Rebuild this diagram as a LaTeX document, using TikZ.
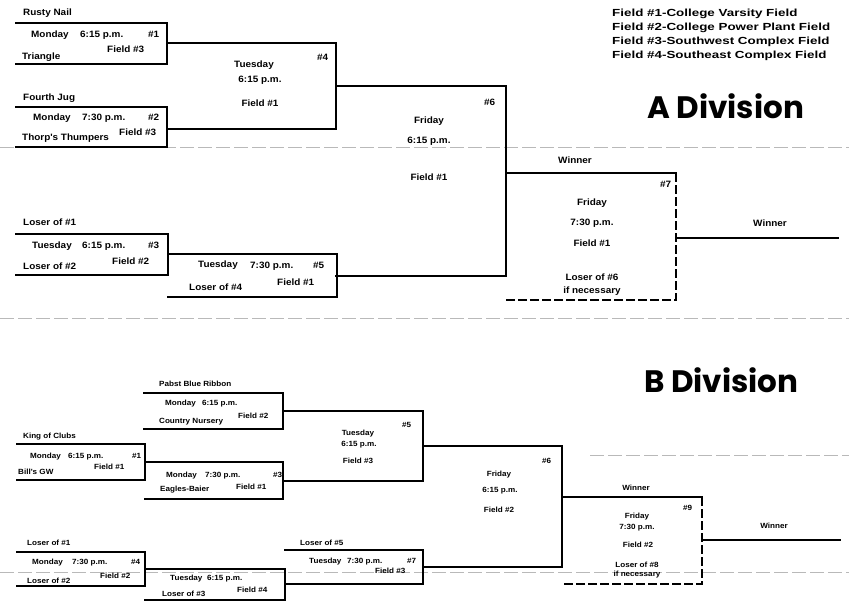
\documentclass[tikz,border=0pt]{standalone}
\usepackage{fontspec}
\newfontfamily\tf{Liberation Sans}[FakeStretch=1.08]
\newfontfamily\lf{Liberation Sans}[FakeStretch=1.3]
\newfontfamily\df{Poppins}
\newcommand\brk[6][]{%
  \node[brframe, minimum width={(#4-#2)*1pt}, minimum height={(#6-#3)*1pt}] (#5) at (#2,#3) {};
  \draw[br,#1] (#5.north west) -- (#5.north east) -- (#5.south east) -- (#5.south west);}
\newcommand\dbrk[6][]{%
  \node[brframe, minimum width={(#4-#2)*1pt}, minimum height={(#6-#3)*1pt}] (#5) at (#2,#3) {};
  \draw[br,#1] (#5.north west) -- (#5.north east);
  \draw[dsh,#1] (#5.north east) -- (#5.south east) -- (#5.south west);}
\begin{document}
\begin{tikzpicture}[x=1pt,y=-1pt,
  br/.style={line width=2.4pt, line join=miter, line cap=rect},
  dsh/.style={line width=2.4pt, dash pattern=on 9pt off 3pt},
  thinb/.style={line width=2pt},
  brframe/.style={inner sep=0pt, outer sep=0pt, draw=none, anchor=north west},
  ta/.style={inner sep=0pt, anchor=base west, font=\tf\bfseries\fontsize{9.2}{10}\selectfont},
  tac/.style={ta, anchor=base},
  tb/.style={inner sep=0pt, anchor=base west, font=\tf\bfseries\fontsize{7.5}{9}\selectfont},
  tbc/.style={tb, anchor=base},
  leg/.style={inner sep=0pt, anchor=base west, font=\lf\bfseries\fontsize{10.3}{12}\selectfont},
  divt/.style={inner sep=0pt, anchor=base west, font=\df\bfseries\fontsize{31}{35}\selectfont},
  scan/.style={gray!55, line width=0.6pt, dash pattern=on 14pt off 4pt}]
\useasboundingbox (0,0) rectangle (849,611);

% faint scan lines
\coordinate (s1a) at (0,147); \coordinate (s1b) at (849,147);
\coordinate (s2a) at (0,318); \coordinate (s2b) at (849,318);
\coordinate (s3a) at (590,455); \coordinate (s3b) at (849,455);
\coordinate (s4a) at (0,572); \coordinate (s4b) at (849,572);
\draw[scan] (s1a) -- (s1b);
\draw[scan] (s2a) -- (s2b);
\draw[scan] (s3a) -- (s3b);
\draw[scan] (s4a) -- (s4b);

% ---------------- legend & titles
\node[leg] (l1) at (612,16) {Field \#1-College Varsity Field};
\node[leg] (l2) at (612,30) {Field \#2-College Power Plant Field};
\node[leg] (l3) at (612,44) {Field \#3-Southwest Complex Field};
\node[leg] (l4) at (612,58) {Field \#4-Southeast Complex Field};
\node[divt] (ad) at (647,118) {A Division};
\node[divt] (bd) at (644,392) {B Division};

% ---------------- A Division brackets
\brk{16}{23}{167}{a1}{64}
\brk{16}{107}{167}{a2}{147}
\brk{167}{43}{336}{a4}{129}
\brk{336}{86}{506}{a6}{276}
\dbrk{506}{173}{676}{a7}{300}
\brk{16}{234}{168}{a3}{275}
\brk{168}{254}{337}{a5}{297}
\coordinate (aw) at (838,238);
\draw[br] (a7.east |- aw) -- (aw);

% A texts
\node[ta] (a1t0) at (23,15) {Rusty Nail};
\node[ta] (a1t1) at (31,37) {Monday};
\node[ta] (a1t2) at (80,37) {6:15 p.m.};
\node[ta] (a1t3) at (148,37) {\#1};
\node[ta] (a1t4) at (107,52) {Field \#3};
\node[ta] (a1t5) at (22,59) {Triangle};

\node[ta] (a2t0) at (23,100) {Fourth Jug};
\node[ta] (a2t1) at (33,120) {Monday};
\node[ta] (a2t2) at (82,120) {7:30 p.m.};
\node[ta] (a2t3) at (148,120) {\#2};
\node[ta] (a2t4) at (119,135) {Field \#3};
\node[ta] (a2t5) at (22,140) {Thorp's Thumpers};

\node[ta] (a4t0) at (317,60) {\#4};
\node[tac] (a4t1) at (254,67) {Tuesday};
\node[tac] (a4t2) at (260,82) {6:15 p.m.};
\node[tac] (a4t3) at (260,106) {Field \#1};

\node[ta] (a6t0) at (484,105) {\#6};
\node[tac] (a6t1) at (429,123) {Friday};
\node[tac] (a6t2) at (429,143) {6:15 p.m.};
\node[tac] (a6t3) at (429,180) {Field \#1};

\node[tac] (a7w) at (575,163) {Winner};
\node[ta] (a7t0) at (660,187) {\#7};
\node[tac] (a7t1) at (592,205) {Friday};
\node[tac] (a7t2) at (592,225) {7:30 p.m.};
\node[tac] (a7t3) at (592,246) {Field \#1};
\node[tac] (a7t4) at (592,280) {Loser of \#6};
\node[tac] (a7t5) at (592,293) {if necessary};
\node[tac] (awt) at (770,226) {Winner};

\node[ta] (a3t0) at (23,225) {Loser of \#1};
\node[ta] (a3t1) at (32,248) {Tuesday};
\node[ta] (a3t2) at (82,248) {6:15 p.m.};
\node[ta] (a3t3) at (148,248) {\#3};
\node[ta] (a3t4) at (112,264) {Field \#2};
\node[ta] (a3t5) at (23,269) {Loser of \#2};

\node[ta] (a5t1) at (198,267) {Tuesday};
\node[ta] (a5t2) at (250,268) {7:30 p.m.};
\node[ta] (a5t3) at (313,268) {\#5};
\node[ta] (a5t4) at (277,285) {Field \#1};
\node[ta] (a5t5) at (189,290) {Loser of \#4};

% ---------------- B Division brackets
\brk[thinb]{144}{393}{283}{bp}{429}
\brk[thinb]{17}{444}{145}{b1}{480}
\brk[thinb]{145}{462}{283}{b3}{499}
\brk[thinb]{283}{411}{423}{b5}{481}
\brk[thinb]{423}{446}{562}{b6}{567}
\dbrk[thinb]{562}{497}{702}{b9}{584}
\brk[thinb]{17}{552}{145}{b4}{586}
\brk[thinb]{145}{569}{285}{b8}{600}
\brk[thinb]{285}{550}{423}{b7}{584}
\coordinate (bw) at (840,540);
\draw[br,thinb] (b9.east |- bw) -- (bw);

% B texts
\node[tb] (bpt0) at (159,386) {Pabst Blue Ribbon};
\node[tb] (bpt1) at (165,405) {Monday};
\node[tb] (bpt2) at (202,405) {6:15 p.m.};
\node[tb] (bpt3) at (238,418) {Field \#2};
\node[tb] (bpt4) at (159,423) {Country Nursery};

\node[tb] (b1t0) at (23,438) {King of Clubs};
\node[tb] (b1t1) at (30,458) {Monday};
\node[tb] (b1t2) at (68,458) {6:15 p.m.};
\node[tb] (b1t3) at (132,458) {\#1};
\node[tb] (b1t4) at (94,469) {Field \#1};
\node[tb] (b1t5) at (18,474) {Bill's GW};

\node[tb] (b3t1) at (166,477) {Monday};
\node[tb] (b3t2) at (205,477) {7:30 p.m.};
\node[tb] (b3t3) at (273,477) {\#3};
\node[tb] (b3t4) at (236,489) {Field \#1};
\node[tb] (b3t5) at (160,491) {Eagles-Baier};

\node[tb] (b5t0) at (402,427) {\#5};
\node[tbc] (b5t1) at (358,435) {Tuesday};
\node[tbc] (b5t2) at (359,446) {6:15 p.m.};
\node[tbc] (b5t3) at (358,463) {Field \#3};

\node[tb] (b6t0) at (542,463) {\#6};
\node[tbc] (b6t1) at (499,476) {Friday};
\node[tbc] (b6t2) at (500,492) {6:15 p.m.};
\node[tbc] (b6t3) at (499,512) {Field \#2};

\node[tbc] (b9w) at (636,490) {Winner};
\node[tb] (b9t0) at (683,510) {\#9};
\node[tbc] (b9t1) at (637,518) {Friday};
\node[tbc] (b9t2) at (637,529) {7:30 p.m.};
\node[tbc] (b9t3) at (638,547) {Field \#2};
\node[tbc] (b9t4) at (637,567) {Loser of \#8};
\node[tbc] (b9t5) at (637,576) {if necessary};
\node[tbc] (bwt) at (774,528) {Winner};

\node[tb] (b4t0) at (27,545) {Loser of \#1};
\node[tb] (b4t1) at (32,564) {Monday};
\node[tb] (b4t2) at (72,564) {7:30 p.m.};
\node[tb] (b4t3) at (131,564) {\#4};
\node[tb] (b4t4) at (100,578) {Field \#2};
\node[tb] (b4t5) at (27,583) {Loser of \#2};

\node[tb] (b8t1) at (170,580) {Tuesday};
\node[tb] (b8t2) at (207,580) {6:15 p.m.};
\node[tb] (b8t3) at (237,592) {Field \#4};
\node[tb] (b8t4) at (162,596) {Loser of \#3};

\node[tb] (b7t0) at (300,545) {Loser of \#5};
\node[tb] (b7t1) at (309,563) {Tuesday};
\node[tb] (b7t2) at (347,563) {7:30 p.m.};
\node[tb] (b7t3) at (407,563) {\#7};
\node[tb] (b7t4) at (375,573) {Field \#3};
\end{tikzpicture}
\end{document}
